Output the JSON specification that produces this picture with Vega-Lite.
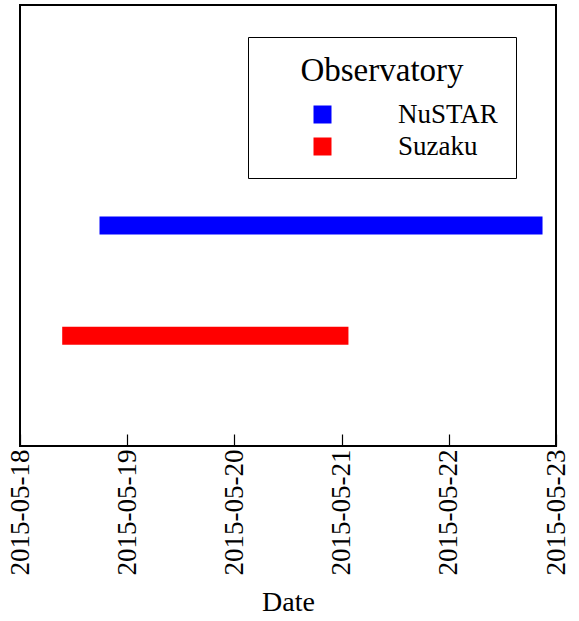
{
  "$schema": "https://vega.github.io/schema/vega-lite/v6.json",
  "autosize": {"type": "none"},
  "padding": {"left": 20, "top": 5, "right": 23, "bottom": 175},
  "width": 536,
  "height": 441,
  "background": "white",
  "config": {
    "view": {"stroke": "black", "strokeWidth": 2},
    "font": "Liberation Serif"
  },
  "data": {
    "values": [
      {"observatory": "NuSTAR", "start": "2015-05-18T17:48:00", "end": "2015-05-22T20:59:00"},
      {"observatory": "Suzaku", "start": "2015-05-18T09:27:00", "end": "2015-05-21T01:32:00"}
    ]
  },
  "mark": {"type": "bar", "size": 18},
  "encoding": {
    "x": {
      "field": "start", "type": "temporal",
      "scale": {"domain": [{"year": 2015, "month": 5, "date": 18}, {"year": 2015, "month": 5, "date": 23}]},
      "axis": {
        "orient": "bottom",
        "title": "Date",
        "titleFontSize": 28,
        "titleFontWeight": "normal",
        "titleColor": "black",
        "titlePadding": 14,
        "domain": false,
        "grid": false,
        "tickCount": 5,
        "format": "%Y-%m-%d",
        "labelAngle": -90,
        "labelAlign": "right",
        "labelBaseline": "middle",
        "labelFontSize": 27,
        "labelColor": "black",
        "labelPadding": 15,
        "labelOverlap": false,
        "labelFlush": false,
        "tickColor": "black",
        "tickWidth": 1.2,
        "tickSize": -12
      }
    },
    "x2": {"field": "end"},
    "y": {
      "field": "observatory", "type": "nominal",
      "scale": {"type": "point", "domain": [" ", "NuSTAR", "Suzaku"], "padding": 1},
      "axis": null
    },
    "color": {
      "field": "observatory", "type": "nominal",
      "scale": {"domain": ["NuSTAR", "Suzaku"], "range": ["#0000ff", "#ff0000"]},
      "legend": {
        "title": "Observatory",
        "orient": "none",
        "legendX": 228,
        "legendY": 32,
        "strokeColor": "black",
        "fillColor": "white",
        "padding": 18,
        "titleFontSize": 33,
        "titleFontWeight": "normal",
        "titleColor": "black",
        "titleAnchor": "middle",
        "titlePadding": 13,
        "labelFontSize": 27,
        "labelColor": "black",
        "labelOffset": 62,
        "symbolType": "square",
        "symbolSize": 324,
        "symbolStrokeWidth": 0,
        "symbolOffset": 43,
        "rowPadding": 4
      }
    }
  }
}
